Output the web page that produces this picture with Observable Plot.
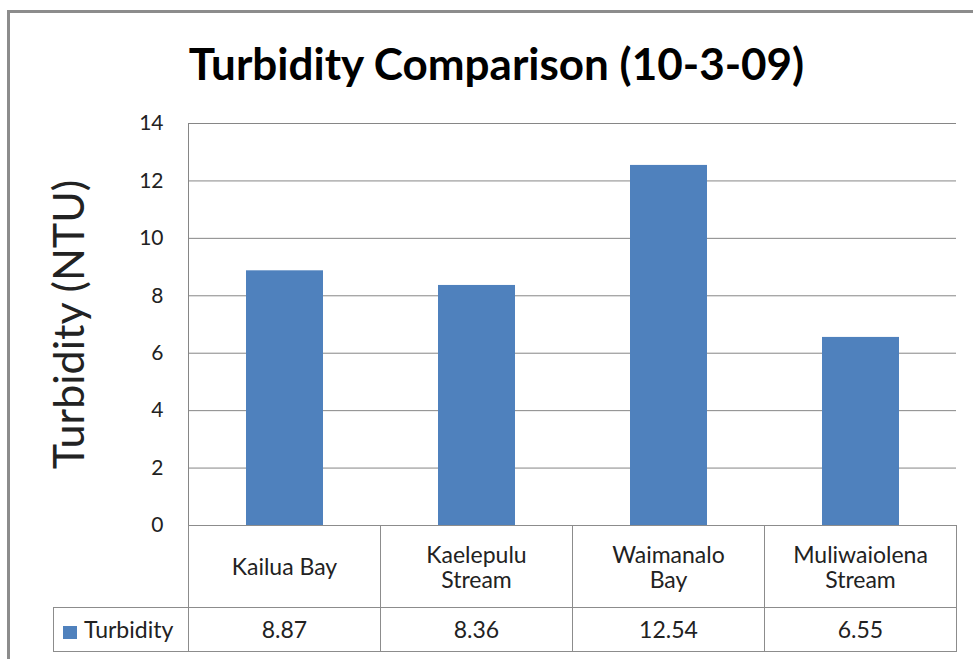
<!DOCTYPE html>
<html><head><meta charset="utf-8">
<script src="https://cdn.jsdelivr.net/npm/d3@7"></script>
<script src="https://cdn.jsdelivr.net/npm/@observablehq/plot@0.6"></script>
<style>
html,body{margin:0;padding:0;background:#fff;}
#wrap{position:relative;width:973px;height:659px;overflow:hidden;font-family:Lato,"Open Sans",sans-serif;color:#222;}
#border{position:absolute;left:7px;top:10px;width:1000px;height:700px;border-top:3px solid #8c8c8c;border-left:3px solid #8c8c8c;box-sizing:border-box;}
#title{position:absolute;left:10px;width:973px;top:41px;text-align:center;font-weight:700;font-size:44px;line-height:44px;color:#000;white-space:nowrap;}
#chart{position:absolute;left:0;top:100px;}
#table{position:absolute;left:53px;top:525px;border-collapse:collapse;table-layout:fixed;width:904px;}
#table td{border:1px solid #8c8c8c;text-align:center;font-size:23px;line-height:25px;padding:0 23px;color:#222;box-sizing:border-box;}
#table tr.cat td{height:82px;}
#table tr.val td{height:44px;}
#table td.blank{border-top:none;border-left:none;}
#table td.legend{text-align:left;padding:0 0 0 9px;white-space:nowrap;}
.swatch{display:inline-block;width:14px;height:13px;background:#4F81BD;margin-right:7px;vertical-align:-1px;}
</style>
</head><body>
<div id="wrap">
  <div id="border"></div>
  <div id="title"></div>
  <div id="chart"></div>
  <table id="table"></table>
</div>
<script>
const sites = ["Kailua Bay", "Kaelepulu Stream", "Waimanalo Bay", "Muliwaiolena Stream"];
const turbidity = [8.87, 8.36, 12.54, 6.55];
const yTicks = [0, 2, 4, 6, 8, 10, 12, 14];
const seriesName = "Turbidity";
const titleText = "Turbidity Comparison (10-3-09)";
const yLabel = "Turbidity (NTU)";
const barColor = "#4F81BD";

const data = sites.map((site, i) => ({site, value: turbidity[i]}));

document.getElementById("title").textContent = titleText;

const chart = Plot.plot({
  width: 973,
  height: 425,
  marginLeft: 188,
  marginRight: 17,
  marginTop: 23,
  marginBottom: 0,
  style: {fontFamily: "Lato, 'Open Sans', sans-serif", fontSize: "20px", color: "#222", background: "transparent", overflow: "visible"},
  x: {domain: sites, paddingInner: 0.6, paddingOuter: 0.3, axis: null},
  y: {domain: [0, 14], label: null, axis: null},
  marks: [
    Plot.gridY(yTicks, {stroke: "#868686", strokeOpacity: 1}),
    Plot.frame({anchor: "left", stroke: "#868686"}),
    Plot.barY(data, {x: "site", y: "value", fill: barColor}),
    Plot.axisY(yTicks, {tickSize: 0, tickPadding: 25, label: null, fontSize: 21}),
    Plot.text([yLabel], {frameAnchor: "left", textAnchor: "middle", rotate: -90, dx: -118, fontSize: 43, text: d => d, fill: "#222"})
  ]
});
document.getElementById("chart").appendChild(chart);

// data table below the chart
const table = d3.select("#table");
const cols = table.append("colgroup");
cols.append("col").style("width", "135px");
sites.forEach(() => cols.append("col").style("width", "192px"));
const r1 = table.append("tr").attr("class", "cat");
r1.append("td").attr("class", "blank");
sites.forEach(s => r1.append("td").text(s));
const r2 = table.append("tr").attr("class", "val");
const lg = r2.append("td").attr("class", "legend");
lg.append("span").attr("class", "swatch");
lg.append("span").text(seriesName);
turbidity.forEach(v => r2.append("td").text(d3.format(".2f")(v)));
</script>
</body></html>
